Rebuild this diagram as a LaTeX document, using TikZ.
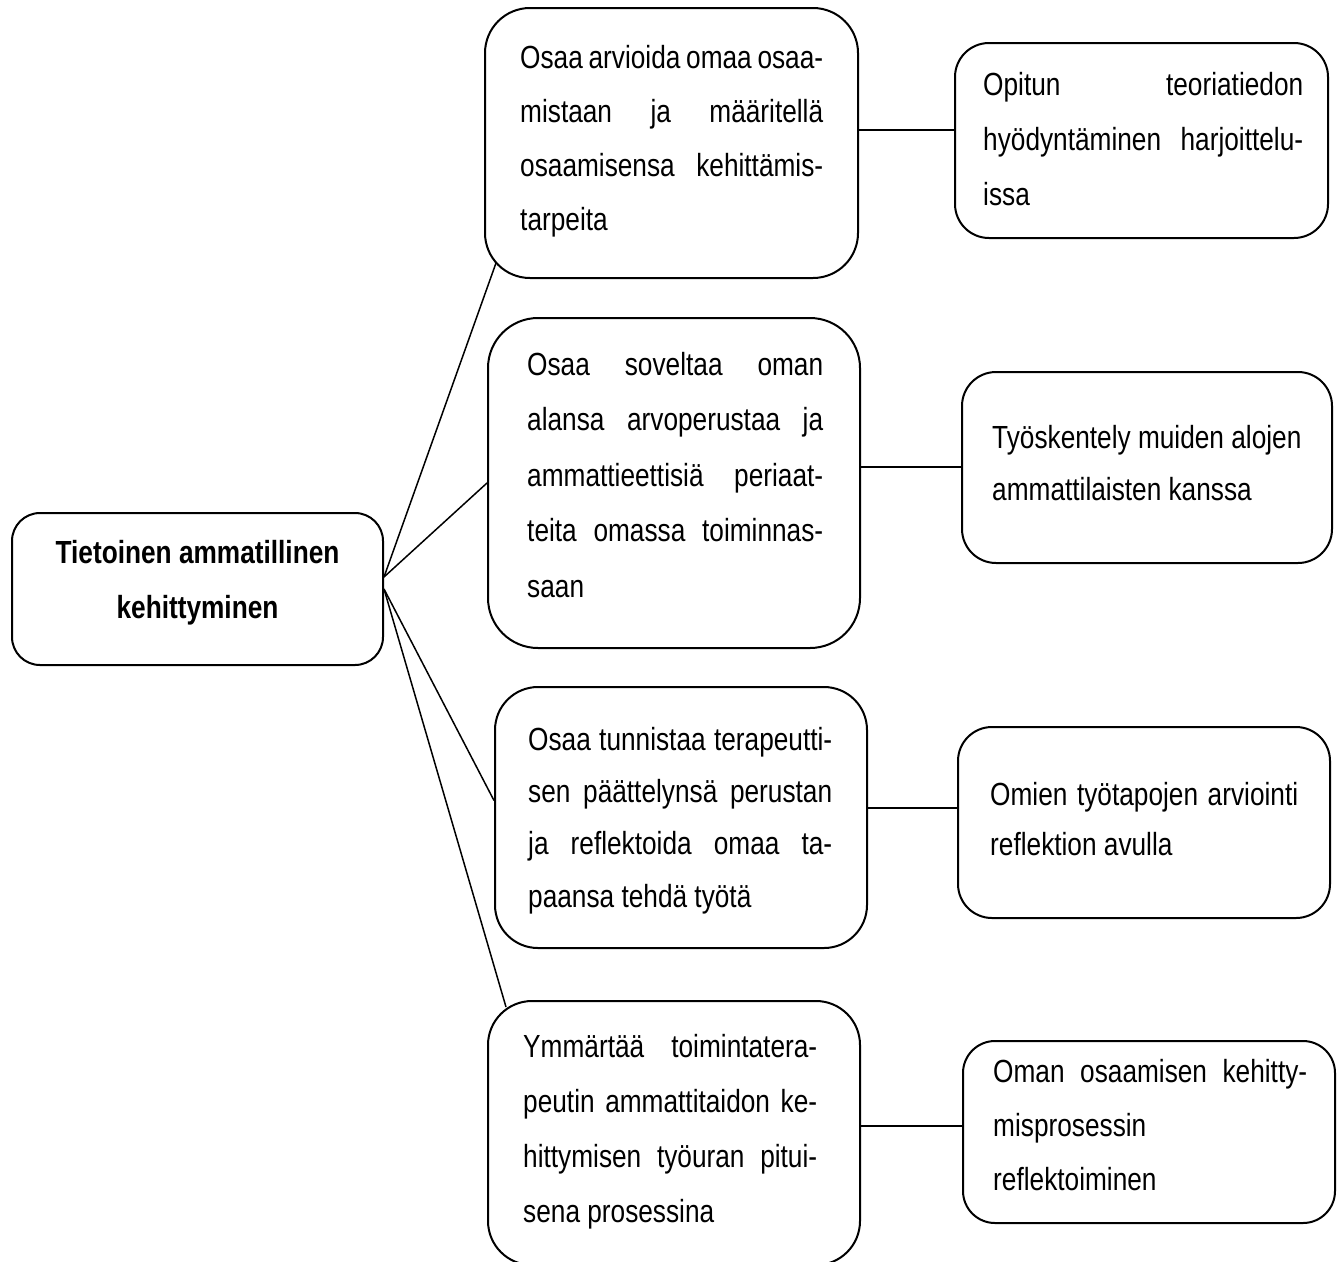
\documentclass[tikz,border=0pt]{standalone}
\usepackage{fontspec}
\setmainfont[FakeStretch=0.82]{Liberation Sans}
\newlength\tw
\newcommand\jline[1]{\hbox to\tw{\rule{0pt}{32pt}#1}}
\newcommand\lline[1]{\hbox to\tw{\rule{0pt}{32pt}#1\hfil}}
\newcommand\ctrline[1]{\hbox to\tw{\hss\rule{0pt}{32pt}#1\hss}}
\newcommand\txtblock[3]{\tw=#1pt\vbox{\baselineskip=#2pt\lineskiplimit=-100pt\lineskip=0pt #3}}
\tikzset{
  box/.style={draw, line width=2pt, rectangle, inner sep=0pt},
  txt/.style={inner sep=0pt, anchor=north west, font=\fontsize{32pt}{54pt}\selectfont},
  ttl/.style={inner sep=0pt, anchor=north, font=\fontsize{32pt}{55pt}\selectfont\bfseries},
  link/.style={line width=1.5pt},
}
\begin{document}
\begin{tikzpicture}[x=1pt,y=-1pt]
\path[use as bounding box, fill=white] (0,0) rectangle (1340,1261);

% boxes
\node[box, minimum width=371pt, minimum height=152pt, rounded corners=28pt] (ctr) at (197.5,589) {};
\node[box, minimum width=373pt, minimum height=270pt, rounded corners=45pt] (b1) at (671.5,143) {};
\node[box, minimum width=373pt, minimum height=195pt, rounded corners=34pt] (r1) at (1141.5,140.5) {};
\node[box, minimum width=372pt, minimum height=330pt, rounded corners=50pt] (b2) at (674,483) {};
\node[box, minimum width=370pt, minimum height=191pt, rounded corners=34pt] (r2) at (1147,467.5) {};
\node[box, minimum width=372pt, minimum height=261pt, rounded corners=43pt] (b3) at (681,817.5) {};
\node[box, minimum width=372pt, minimum height=191pt, rounded corners=34pt] (r3) at (1144,822.5) {};
\node[box, minimum width=372pt, minimum height=264pt, rounded corners=44pt] (b4) at (674,1133) {};
\node[box, minimum width=372pt, minimum height=182pt, rounded corners=32pt] (r4) at (1149,1132) {};

% texts
\node[ttl] (tctr) at (197.5,531) {\txtblock{360}{55}{\ctrline{Tietoinen ammatillinen}\ctrline{kehittyminen}}};
\node[txt] (tb1) at (520,36) {\txtblock{303}{54}{\jline{Osaa arvioida omaa osaa-}\jline{mistaan ja määritellä}\jline{osaamisensa kehittämis-}\lline{tarpeita}}};
\node[txt] (tr1) at (983,63) {\txtblock{320}{55}{\jline{Opitun teoriatiedon}\jline{hyödyntäminen harjoittelu-}\lline{issa}}};
\node[txt] (tb2) at (527,343) {\txtblock{296}{55.5}{\jline{Osaa soveltaa oman}\jline{alansa arvoperustaa ja}\jline{ammattieettisiä periaat-}\jline{teita omassa toiminnas-}\lline{saan}}};
\node[txt] (tr2) at (992,416) {\txtblock{310}{52}{\lline{Työskentely muiden alojen}\lline{ammattilaisten kanssa}}};
\node[txt] (tb3) at (528,718) {\txtblock{304}{52.3}{\jline{Osaa tunnistaa terapeutti-}\jline{sen päättelynsä perustan}\jline{ja reflektoida omaa ta-}\lline{paansa tehdä työtä}}};
\node[txt] (tr3) at (990,773) {\txtblock{308}{50}{\jline{Omien työtapojen arviointi}\lline{reflektion avulla}}};
\node[txt] (tb4) at (523,1025) {\txtblock{294}{55}{\jline{Ymmärtää toimintatera-}\jline{peutin ammattitaidon ke-}\jline{hittymisen työuran pitui-}\lline{sena prosessina}}};
\node[txt] (tr4) at (993,1050) {\txtblock{314}{54}{\jline{Oman osaamisen kehitty-}\lline{misprosessin}\lline{reflektoiminen}}};

% connector helper points
\coordinate (s1) at ([yshift=12pt]ctr.east);
\coordinate (e1) at ([xshift=12pt,yshift=16pt]b1.south west);
\coordinate (e3) at ([yshift=17pt]b3.west);
\coordinate (e4) at ([xshift=19pt,yshift=-7pt]b4.north west);
\coordinate (h1) at (0,130);
\coordinate (h2) at (0,467);
\coordinate (h3) at (0,808);
\coordinate (h4) at (0,1126);

% connectors
\draw[link] (s1) -- (e1);
\draw[link] (s1) -- (b2.west);
\draw[link] (ctr.east) -- (e3);
\draw[link] (ctr.east) -- (e4);
\draw[link] (b1.east |- h1) -- (r1.west |- h1);
\draw[link] (b2.east |- h2) -- (r2.west |- h2);
\draw[link] (b3.east |- h3) -- (r3.west |- h3);
\draw[link] (b4.east |- h4) -- (r4.west |- h4);
\end{tikzpicture}
\end{document}
